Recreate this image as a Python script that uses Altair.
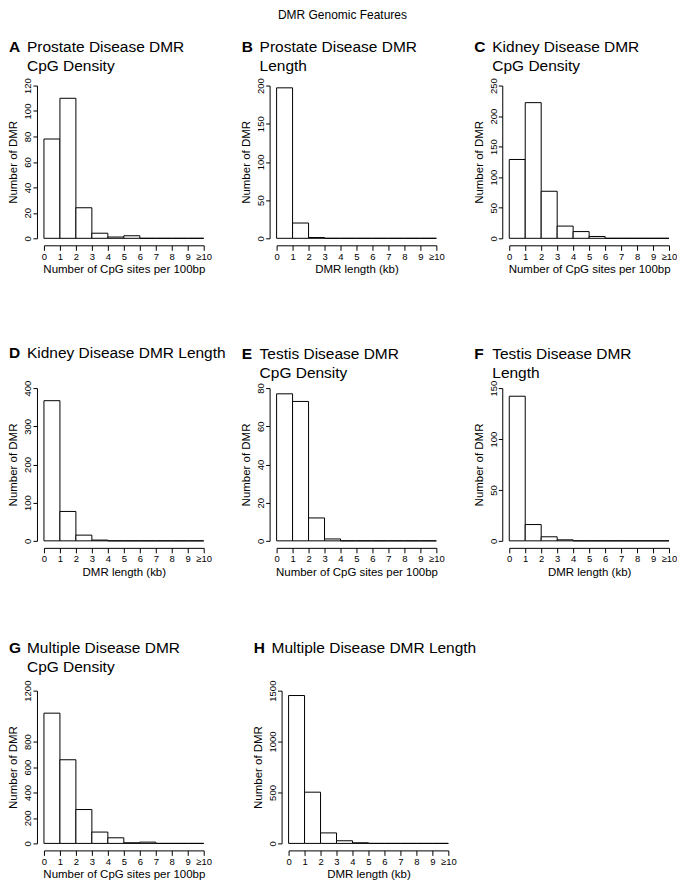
import altair as alt
import pandas as pd

FONT = "Liberation Sans"

# ---- data (counts per bin, bins 0-1, 1-2, ..., 9-10(>=10)) ----
bin_starts = [0, 1, 2, 3, 4, 5, 6, 7, 8, 9]
bin_ends = [1, 2, 3, 4, 5, 6, 7, 8, 9, 10]
x_tick_values = [0, 1, 2, 3, 4, 5, 6, 7, 8, 9, 10]

prostate_cpg = [78, 110, 24, 4, 1, 2, 0, 0, 0, 0]
prostate_len = [197, 20, 1, 0, 0, 0, 0, 0, 0, 0]
kidney_cpg = [129, 222, 77, 20, 11, 3, 0, 0, 0, 0]
kidney_len = [367, 77, 15, 2, 0, 0, 0, 0, 0, 0]
testis_cpg = [77, 73, 12, 1, 0, 0, 0, 0, 0, 0]
testis_len = [142, 16, 4, 1, 0, 0, 0, 0, 0, 0]
multiple_cpg = [1023, 657, 266, 89, 44, 5, 10, 0, 0, 0]
multiple_len = [1452, 503, 103, 26, 6, 0, 0, 0, 0, 0]

yticks_A = [0, 20, 40, 60, 80, 100, 120]
yticks_B = [0, 50, 100, 150, 200]
yticks_C = [0, 50, 100, 150, 200, 250]
yticks_D = [0, 100, 200, 300, 400]
yticks_E = [0, 20, 40, 60, 80]
yticks_F = [0, 50, 100, 150]
yticks_G = [0, 200, 400, 600, 800, 1200]
yticks_H = [0, 500, 1000, 1500]

CPG_TITLE = "Number of CpG sites per 100bp"
LEN_TITLE = "DMR length (kb)"

W, H = 160, 153
ROW_GAP = 150


def panel(letter, title_lines, counts, xtitle, ymax, yticks, title_y):
    df = pd.DataFrame({"start": bin_starts, "end": bin_ends, "count": counts})
    bars = alt.Chart(df).mark_rect(
        fill="white", stroke="black", strokeWidth=1, opacity=1
    ).encode(
        x=alt.X(
            "start:Q",
            scale=alt.Scale(domain=[0, 10], nice=False, zero=False),
            axis=alt.Axis(
                values=x_tick_values,
                labelExpr="datum.value == 10 ? '\u226510' : datum.value",
                title=xtitle,
                offset=7,
                tickSize=5,
                labelPadding=1,
                titlePadding=3,
                labelOverlap=False,
                labelFlush=False,
                labelAngle=0,
            ),
        ),
        x2="end:Q",
        y=alt.Y(
            "count:Q",
            scale=alt.Scale(domain=[0, ymax], nice=False),
            axis=alt.Axis(
                values=yticks,
                format="d",
                title="Number of DMR",
                offset=7,
                tickSize=4,
                labelAngle=270,
                labelAlign="center",
                labelBaseline="bottom",
                labelPadding=0,
                titlePadding=4,
                labelOverlap=False,
                labelFlush=False,
            ),
        ),
        y2=alt.datum(0),
    )
    letter_mark = alt.Chart(alt.Data(values=[{}])).mark_text(
        text=letter, font=FONT, fontWeight="bold", fontSize=15.5,
        align="left", baseline="alphabetic", color="black",
    ).encode(x=alt.value(-35), y=alt.value(title_y))
    title_mark = alt.Chart(alt.Data(values=[{}])).mark_text(
        text=title_lines, font=FONT, fontSize=15.5, lineHeight=19,
        align="left", baseline="alphabetic", color="black",
    ).encode(x=alt.value(-17), y=alt.value(title_y))
    return alt.layer(bars, letter_mark, title_mark).properties(width=W, height=H)


pA = panel("A", ["Prostate Disease DMR", "CpG Density"], prostate_cpg, CPG_TITLE, 120, yticks_A, -34)
pB = panel("B", ["Prostate Disease DMR", "Length"], prostate_len, LEN_TITLE, 200, yticks_B, -34)
pC = panel("C", ["Kidney Disease DMR", "CpG Density"], kidney_cpg, CPG_TITLE, 250, yticks_C, -34)
pD = panel("D", ["Kidney Disease DMR Length"], kidney_len, LEN_TITLE, 400, yticks_D, -30)
pE = panel("E", ["Testis Disease DMR", "CpG Density"], testis_cpg, CPG_TITLE, 80, yticks_E, -29)
pF = panel("F", ["Testis Disease DMR", "Length"], testis_len, LEN_TITLE, 150, yticks_F, -29)
pG = panel("G", ["Multiple Disease DMR", "CpG Density"], multiple_cpg, CPG_TITLE, 1200, yticks_G, -38)
pH = panel("H", ["Multiple Disease DMR Length"], multiple_len, LEN_TITLE, 1500, yticks_H, -38)

row1 = alt.hconcat(pA, pB, pC, spacing=73, bounds="flush")
row2 = alt.hconcat(pD, pE, pF, spacing=73, bounds="flush")
row3 = alt.hconcat(pG, pH, spacing=85, bounds="flush")

chart = alt.vconcat(
    row1, row2, row3, spacing=H + ROW_GAP, bounds="flush",
    title=alt.TitleParams(
        "DMR Genomic Features", font=FONT, fontSize=12, fontWeight="normal",
        anchor="middle", color="black", offset=18,
    ),
).properties(
    padding=0, background="white"
).configure_view(
    stroke=None
).configure_axis(
    grid=False,
    domainColor="black",
    tickColor="black",
    labelColor="black",
    titleColor="black",
    domainWidth=1,
    tickWidth=1,
    labelFont=FONT,
    titleFont=FONT,
    labelFontSize=9.5,
    titleFontSize=11.5,
    titleFontWeight="normal",
)

chart.save("out.html", embed_options={"renderer": "svg", "actions": False})
